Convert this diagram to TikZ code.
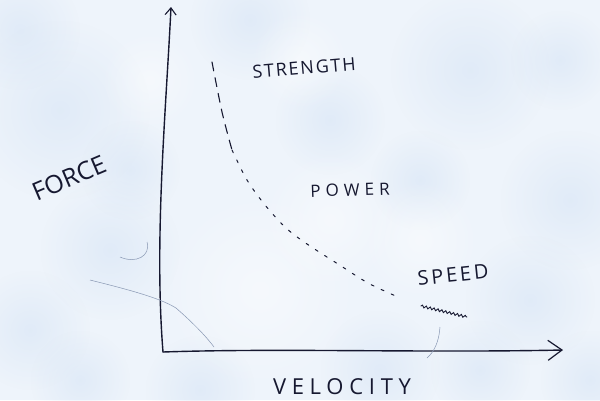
\documentclass[tikz,border=0pt]{standalone}
\usepackage{fontspec}
\newfontfamily\hand{Open Sans}
\usetikzlibrary{arrows.meta,fadings,decorations.pathmorphing}
\definecolor{paper}{RGB}{238,244,251}
\definecolor{wash}{RGB}{208,224,244}
\definecolor{ink}{RGB}{22,24,48}
\definecolor{pencil}{RGB}{135,150,178}
\tikzfading[name=fuzzy, inner color=transparent!55, outer color=transparent!100]
\begin{document}
\begin{tikzpicture}[x=1pt,y=-1pt,
  lbl/.style={text=ink, inner sep=0pt, anchor=center},
  inkline/.style={draw=ink, line width=1.4pt, line cap=round, line join=round},
  curve/.style={draw=ink, line width=1.1pt, line cap=round},
  faint/.style={draw=pencil, line width=0.5pt},
  blob/.style={fill=wash, path fading=fuzzy},
  whiteblob/.style={fill=white, path fading=fuzzy}]
\fill[paper] (0,0) rectangle (600,400);
\useasboundingbox (0,0) rectangle (600,400);
% watercolour mottling
\foreach \x/\y/\r in {60/110/90, 110/250/70, 30/330/60, 470/70/80, 570/200/70, 380/370/60, 200/390/55, 530/300/65, 330/120/55, 250/20/60, 20/30/60, 590/380/50, 420/180/50, 130/170/50, 560/60/50, 80/380/50, 480/370/50}
  \fill[blob] (\x,\y) circle (\r);
\foreach \x/\y/\r in {260/290/100, 330/220/70, 420/240/60, 150/80/50, 300/60/50}
  \fill[whiteblob] (\x,\y) circle (\r);

% axes
\coordinate (O) at (163,352);
\coordinate (ytop) at (171,7);
\coordinate (xend) at (563,350);
\draw[inkline, -{Straight Barb[length=7pt,width=11pt,line width=1.1pt]}]
  (O) .. controls (154,240) and (166,110) .. (ytop);
\draw[inkline, -{Straight Barb[length=14pt,width=20pt,line width=1.2pt]}]
  (O) .. controls (280,348) and (420,353) .. (xend);

% curve
\coordinate (c0) at (212,62);
\coordinate (c1) at (222,112);
\coordinate (c2) at (232,150);
\coordinate (c3) at (247,180);
\coordinate (c4) at (265,205);
\coordinate (c5) at (286,228);
\coordinate (c6) at (307,244);
\coordinate (c7) at (338,264);
\coordinate (c8) at (368,283);
\coordinate (c9) at (398,297);
\coordinate (c10) at (421,306);
\coordinate (c11) at (467,317);
\draw[curve, dash pattern=on 9pt off 7pt] plot[smooth] coordinates {(c0) (c1) (c2)};
\draw[curve, line width=1pt, dash pattern=on 3pt off 8pt] plot[smooth] coordinates {(c2) (c3) (c4) (c5) (c6) (c7) (c8) (c9)};
\draw[curve, line width=0.9pt, decorate, decoration={snake, amplitude=1.2pt, segment length=4pt}] (c10) -- (c11);

% faint pencil marks
\draw[faint] (90,280) .. controls (130,290) and (160,298) .. (176,308) .. controls (192,322) and (205,335) .. (214,347);
\draw[faint] (147,242) .. controls (151,256) and (136,264) .. (120,257);
\draw[faint] (440,327) .. controls (439,342) and (434,352) .. (427,358);

% labels
\node[lbl, rotate=5, font=\hand\addfontfeature{LetterSpace=10}\fontsize{18}{18}\selectfont] (strength) at (304,68) {STRENGTH};
\node[lbl, rotate=2, font=\hand\addfontfeature{LetterSpace=30}\fontsize{17}{17}\selectfont] (power) at (350,190) {POWER};
\node[lbl, rotate=6, font=\hand\addfontfeature{LetterSpace=14}\fontsize{20}{20}\selectfont] (speed) at (453,275) {SPEED};
\node[lbl, rotate=23, font=\hand\fontsize{25}{25}\selectfont] (force) at (69,178) {FORCE};
\node[lbl, font=\hand\addfontfeature{LetterSpace=26}\fontsize{22}{22}\selectfont] (velocity) at (342,387) {VELOCITY};
\end{tikzpicture}
\end{document}
